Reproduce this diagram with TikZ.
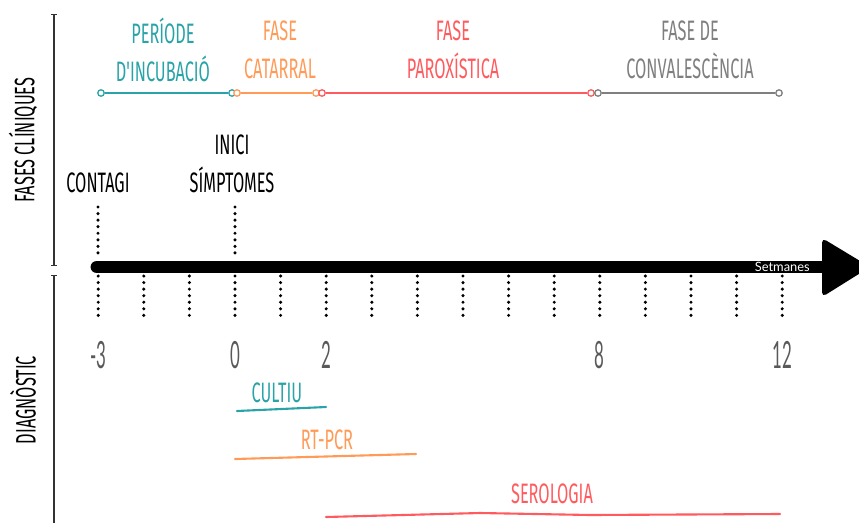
\documentclass[tikz,border=0pt]{standalone}
\usepackage{fontspec}
\usetikzlibrary{arrows.meta}
\newfontfamily\handfont[FakeStretch=0.58]{Fira Sans}
\newfontfamily\numfont[FakeStretch=0.45]{Lato}
\newfontfamily\axisfont{Lato}
\definecolor{incub}{HTML}{2AA3A8}
\definecolor{catarr}{HTML}{FF9A57}
\definecolor{paroxi}{HTML}{FF5B5E}
\definecolor{conval}{HTML}{7F7F7F}

\begin{document}
\begin{tikzpicture}[
    x=0.03cm, y=-0.03cm,
    phase/.style={
      font=\handfont\fontsize{24}{32}\selectfont, align=center,
      inner sep=0pt,
    },
    event/.style={phase, text=black},
    heading/.style={phase, text=black, rotate=90},
    weeknum/.style={
      font=\numfont\fontsize{32}{36}\selectfont, text=black!65,
      inner sep=0pt,
    },
    knot/.style={
      circle, draw, fill=white, line width=1.1pt,
      inner sep=0pt, minimum size=5.5pt,
    },
    phaseline/.style={line width=1.6pt},
    dotline/.style={line width=2.9pt, line cap=round, dash pattern=on 0pt off 5.6pt},
    sideaxis/.style={line width=1.1pt, black!80},
    testline/.style={line width=1.8pt, line cap=round},
]
\useasboundingbox (0,0) rectangle (859,522);

% side headings
\draw[sideaxis, {Bar[width=5pt]}-{Bar[width=5pt]}] (54,14) -- (54,266);
\draw[sideaxis, {Bar[width=5pt]}-] (54,275) -- (54,540);
\node[heading] (clin) at (23,140) {FASES CLÍNIQUES};
\node[heading] (diag) at (23,400) {DIAGNÒSTIC};

% clinical phases
\node[knot, draw=incub] (incA) at (101,93) {};
\node[knot, draw=incub] (incB) at (232,93) {};
\node[knot, draw=catarr] (catA) at (237,93) {};
\node[knot, draw=catarr] (catB) at (316,93) {};
\node[knot, draw=paroxi] (parA) at (322,93) {};
\node[knot, draw=paroxi] (parB) at (591,93) {};
\node[knot, draw=conval] (conA) at (598,93) {};
\node[knot, draw=conval] (conB) at (779,93) {};
\draw[phaseline, incub] (incA) -- (incB);
\draw[phaseline, catarr] (catA) -- (catB);
\draw[phaseline, paroxi] (parA) -- (parB);
\draw[phaseline, conval] (conA) -- (conB);

\node[phase, text=incub] (incLbl) at (163,50) {PERÍODE\\D'INCUBACIÓ};
\node[phase, text=catarr] (catLbl) at (280,50) {FASE\\CATARRAL};
\node[phase, text=paroxi] (parLbl) at (453,50) {FASE\\PAROXÍSTICA};
\node[phase, text=conval] (conLbl) at (690,50) {FASE DE\\CONVALESCÈNCIA};

% events
\node[event] (contagi) at (98,183) {CONTAGI};
\node[event] (inici) at (232,164) {INICI\\SÍMPTOMES};
\coordinate (contagiTop) at (98,207);
\coordinate (contagiBot) at (98,259);
\coordinate (iniciTop) at (235,207);
\coordinate (iniciBot) at (235,259);
\draw[dotline] (contagiTop) -- (contagiBot);
\draw[dotline] (iniciTop) -- (iniciBot);

% time axis
\coordinate (axisStart) at (97,267);
\coordinate (axisEnd) at (830,267);
\draw[line width=11pt, line cap=round] (axisStart) -- (axisEnd);
\fill[rounded corners=4pt] (822,238) -- (870,267) -- (822,297) -- cycle;
\node[font=\axisfont\fontsize{11}{13}\selectfont, text=white, anchor=east, inner sep=0pt]
    (unit) at (810,267) {Setmanes};

\foreach \k [count=\i] in {-3,...,12} {
  \coordinate (tick\i) at ({235+45.6*\k},276);
  \coordinate (foot\i) at ({235+45.6*\k},320);
  \draw[dotline] (tick\i) -- (foot\i);
}
\foreach \k [count=\i] in {-3,0,2,8,12}
  \node[weeknum] (week\i) at ({235+45.6*\k},355) {\k};

% diagnosis
\node[phase, text=incub] (cultiu) at (277,393) {CULTIU};
\coordinate (cultiuL) at (237,411);
\coordinate (cultiuR) at (326,407);
\draw[testline, incub] (cultiuL) -- (cultiuR);

\node[phase, text=catarr] (rtpcr) at (327,440) {RT-PCR};
\coordinate (rtpcrL) at (235,459);
\coordinate (rtpcrR) at (416,454);
\draw[testline, catarr] (rtpcrL) -- (rtpcrR);

\node[phase, text=paroxi] (sero) at (552,494) {SEROLOGIA};
\coordinate (seroL) at (326,517);
\coordinate (seroM) at (480,513);
\coordinate (seroN) at (590,515);
\coordinate (seroR) at (780,514);
\draw[testline, paroxi] (seroL) -- (seroM) -- (seroN) -- (seroR);

\end{tikzpicture}
\end{document}
